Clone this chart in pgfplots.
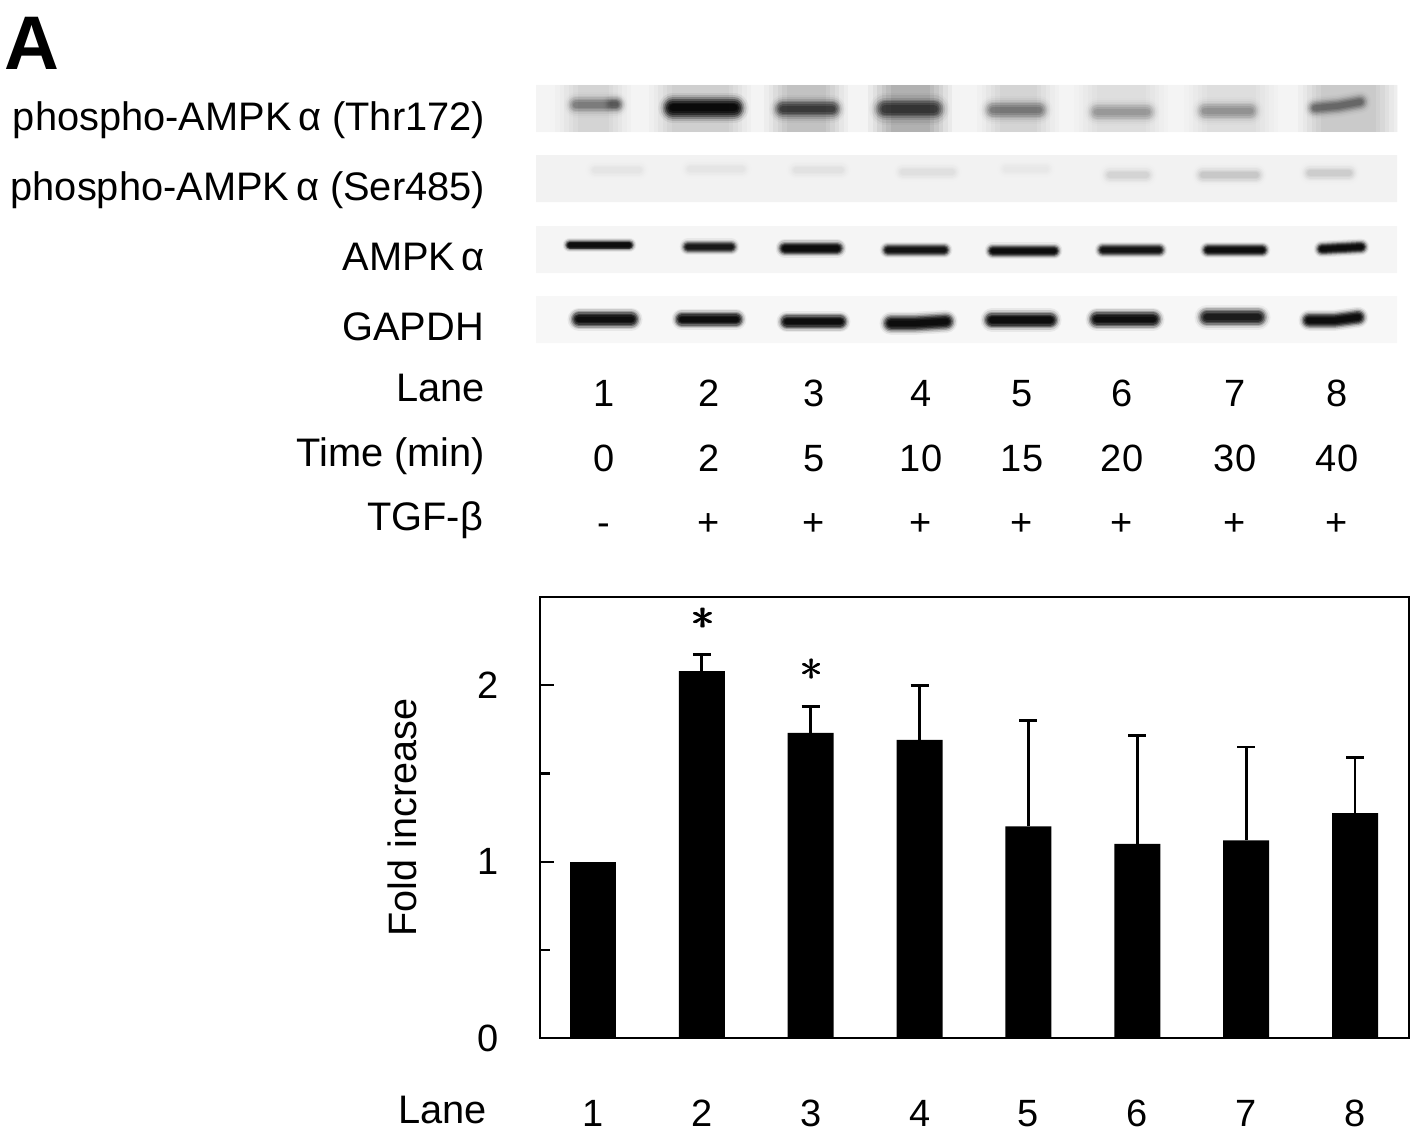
\documentclass[border=0pt]{standalone}
\usepackage{pgfplots}
\pgfplotsset{compat=1.18}
\usepackage{fontspec}
\setmainfont{Liberation Sans}
\definecolor{bgA}{gray}{0.955}
\definecolor{bgB}{gray}{0.95}
\definecolor{bgC}{gray}{0.96}
\definecolor{bgD}{gray}{0.97}
\newcommand\thickast{\rlap{$\ast$}\kern0.12pt\rlap{\raisebox{0.12pt}{$\ast$}}\kern0.12pt$\ast$}
\tikzset{
  op/.code={\pgfmathsetmacro\myop{#1}\edef\myoptmp{\noexpand\tikzset{opacity=\myop}}\myoptmp},
  T/.style={font=\fontsize{19.9pt}{22pt}\selectfont,inner sep=0pt,outer sep=0pt},
  D/.style={font=\fontsize{19pt}{21pt}\selectfont,inner sep=0pt,outer sep=0pt,anchor=base}}
\pgfplotsset{lay/.style={black,no markers,forget plot,line join=round}}
% #1 coordinates, #2 thickness in px, #3 layer opacity
\newcommand\band[3]{%
  \addplot[lay,line cap=round,line width=2.1*#2*0.5pt,op=#3*0.12] coordinates {#1};
  \addplot[lay,line cap=round,line width=1.8*#2*0.5pt,op=#3*0.25] coordinates {#1};
  \addplot[lay,line cap=round,line width=1.5*#2*0.5pt,op=#3*0.45] coordinates {#1};
  \addplot[lay,line cap=round,line width=1.25*#2*0.5pt,op=#3*0.7] coordinates {#1};
  \addplot[lay,line cap=round,line width=1.0*#2*0.5pt,op=#3*0.9] coordinates {#1};
  \addplot[lay,line cap=round,line width=0.75*#2*0.5pt,op=#3] coordinates {#1};
  \addplot[lay,line cap=round,line width=0.5*#2*0.5pt,op=#3] coordinates {#1};
}
% #1 centre x, #2 width in px, #3 layer opacity
\newcommand\lane[3]{%
  \addplot[lay,line cap=butt,line width=(#2+18)*0.5pt,op=#3*0.5] coordinates {(#1,85)(#1,132)};
  \addplot[lay,line cap=butt,line width=(#2+9)*0.5pt,op=#3*0.5] coordinates {(#1,85)(#1,132)};
  \addplot[lay,line cap=butt,line width=(#2)*0.5pt,op=#3*0.7] coordinates {(#1,85)(#1,132)};
  \addplot[lay,line cap=butt,line width=(#2-9)*0.5pt,op=#3*0.7] coordinates {(#1,85)(#1,132)};
  \addplot[lay,line cap=butt,line width=(#2-18)*0.5pt,op=#3*0.7] coordinates {(#1,85)(#1,132)};
  \addplot[lay,line cap=butt,line width=(#2-27)*0.5pt,op=#3*0.7] coordinates {(#1,85)(#1,132)};
}
\newcommand\rowbg[3]{%
  \addplot[forget plot,no markers,fill=#3,draw=none] coordinates {(536,#1)(1397,#1)(1397,#2)(536,#2)(536,#1)};
}
\begin{document}
\begin{tikzpicture}[x=1pt,y=1pt]
\path[use as bounding box] (0,0) rectangle (708.5,564.5);
\begin{axis}[
  at={(0pt,0pt)},anchor=south west,
  width=708.5pt,height=564.5pt,scale only axis,
  xmin=0,xmax=1417,ymin=0,ymax=1129,y dir=reverse,
  hide axis,clip=false]
\rowbg{85}{132}{bgA}
\rowbg{155}{202}{bgB}
\rowbg{226}{273}{bgC}
\rowbg{296}{343}{bgD}
% smears of row 1
\lane{593}{58}{0.035}
\lane{700}{84}{0.04}
\lane{806}{66}{0.055}
\lane{910}{66}{0.08}
\lane{1018}{64}{0.035}
\lane{1121}{76}{0.025}
\lane{1231}{76}{0.025}
\lane{1348}{82}{0.045}
% row 1
\band{(576,105)(616,105)}{12}{0.11}
\band{(612,104)(616,104)}{10}{0.08}
\band{(673,108)(734,108)}{14}{0.5}
\band{(783,109)(832,109)}{13}{0.24}
\band{(885,109)(934,109)}{15}{0.24}
\band{(993,110)(1039,110)}{13}{0.12}
\band{(1097,112)(1147,112)}{13}{0.08}
\band{(1205,111)(1250,111)}{13}{0.085}
\band{(1315,108)(1338,106)(1360,102)}{11}{0.14}
% row 2
\band{(595,170)(639,170)}{11}{0.012}
\band{(690,169)(742,169)}{11}{0.012}
\band{(796,170)(841,170)}{11}{0.014}
\band{(903,172)(952,172)}{11}{0.016}
\band{(1006,169)(1046,169)}{10}{0.009}
\band{(1110,175)(1146,175)}{11}{0.028}
\band{(1203,175)(1256,175)}{11}{0.04}
\band{(1310,173)(1349,173)}{11}{0.036}
% row 3
\band{(570,245)(629,245)}{7}{0.5}
\band{(688,246.7)(731,246.7)}{8}{0.42}
\band{(785,248.3)(837,248.3)}{9}{0.5}
\band{(888,250)(944,250)}{8}{0.45}
\band{(993,250.7)(1054,250.7)}{8}{0.5}
\band{(1103,250)(1159,250)}{8}{0.45}
\band{(1208,250)(1262,250)}{8}{0.5}
\band{(1322,249)(1361,247)}{8}{0.5}
% row 4
\band{(579,319.3)(631,319.3)}{11}{0.5}
\band{(682,319.3)(736,319.3)}{10}{0.5}
\band{(787,321.7)(840,321.7)}{10}{0.5}
\band{(891,323.3)(915,323.3)(946,321.5)}{11}{0.5}
\band{(992,320)(1050,320)}{11}{0.5}
\band{(1097,319.3)(1153,319.3)}{11}{0.5}
\band{(1207,317.3)(1258,317.3)}{12}{0.4}
\band{(1309,320.3)(1335,320.3)(1358,317.3)}{10}{0.5}
% texts
\node[T,anchor=base west,font=\fontsize{38pt}{40pt}\selectfont\bfseries] at (4,70) {A};
\node[T,anchor=base east] at (485,130) {phospho-AMPK\,α (Thr172)};
\node[T,anchor=base east] at (485,200) {phospho-AMPK\,α (Ser485)};
\node[T,anchor=base east] at (485,270) {AMPK\,α};
\node[T,anchor=base east] at (484,340) {GAPDH};
\node[T,anchor=base east] at (485,401) {Lane};
\node[T,anchor=base east] at (485,466) {Time (min)};
\node[T,anchor=base east] at (483,530) {TGF-β};
\node[D] at (604,406) {1};
\node[D] at (709,406) {2};
\node[D] at (814,406) {3};
\node[D] at (921,406) {4};
\node[D] at (1022,406) {5};
\node[D] at (1122,406) {6};
\node[D] at (1235,406) {7};
\node[D] at (1337,406) {8};
\node[D] at (604,471) {0};
\node[D] at (709,471) {2};
\node[D] at (814,471) {5};
\node[D] at (921,471) {10};
\node[D] at (1022,471) {15};
\node[D] at (1122,471) {20};
\node[D] at (1235,471) {30};
\node[D] at (1337,471) {40};
\node[D] at (604,535) {-};
\node[D] at (709,535) {+};
\node[D] at (814,535) {+};
\node[D] at (921,535) {+};
\node[D] at (1022,535) {+};
\node[D] at (1122,535) {+};
\node[D] at (1235,535) {+};
\node[D] at (1337,535) {+};
\node[T,anchor=base east] at (487,1123) {Lane};
\end{axis}
\begin{axis}[
  at={(270pt,45.5pt)},anchor=south west,
  width=434.5pt,height=220.5pt,scale only axis,
  xmin=0.513,xmax=8.496,ymin=0,ymax=2.5,
  axis line style={line width=1.2pt},
  xtick={1,2,3,4,5,6,7,8},
  x tick style={draw=none},
  ytick={0,1,2},minor ytick={0.5,1.5},
  ytick pos=left,tick align=inside,
  major tick length=7pt,minor tick length=5pt,
  y tick style={line width=1.1pt,black},
  minor y tick style={line width=1.1pt,black},
  /pgf/number format/assume math mode=true,
  tick label style={font=\fontsize{19pt}{21pt}\selectfont},
  yticklabel style={xshift=-17pt},
  xticklabel style={yshift=-27.5pt},
  ylabel={Fold increase},
  every axis y label/.style={at={(axis description cs:-0.158,0.5)},rotate=90,anchor=center,font=\fontsize{19.8pt}{22pt}\selectfont},
  clip=false]
\addplot[ybar,bar width=23pt,bar shift=0pt,fill=black,draw=none,forget plot] coordinates {(1,1.0)};
\addplot[ybar,bar width=23pt,bar shift=0pt,fill=black,draw=none,forget plot,
  error bars/.cd,y dir=plus,y explicit,
  error bar style={line width=1.4pt,black},
  error mark options={rotate=90,mark size=4.5pt,line width=1.4pt,black}]
  table[x=x,y=y,y error=e,row sep=\\]{
  x y e\\
  2 2.08 0.095\\
  3 1.73 0.15\\
  4 1.69 0.31\\
  5 1.20 0.60\\
  6 1.10 0.617\\
  7 1.12 0.53\\
  8 1.275 0.315\\
};
\node[scale=2.3,inner sep=0pt] at (axis cs:2.01,2.376) {\thickast};
\node[scale=2.3,inner sep=0pt] at (axis cs:3.01,2.087) {\thickast};
\end{axis}
\end{tikzpicture}
\end{document}
